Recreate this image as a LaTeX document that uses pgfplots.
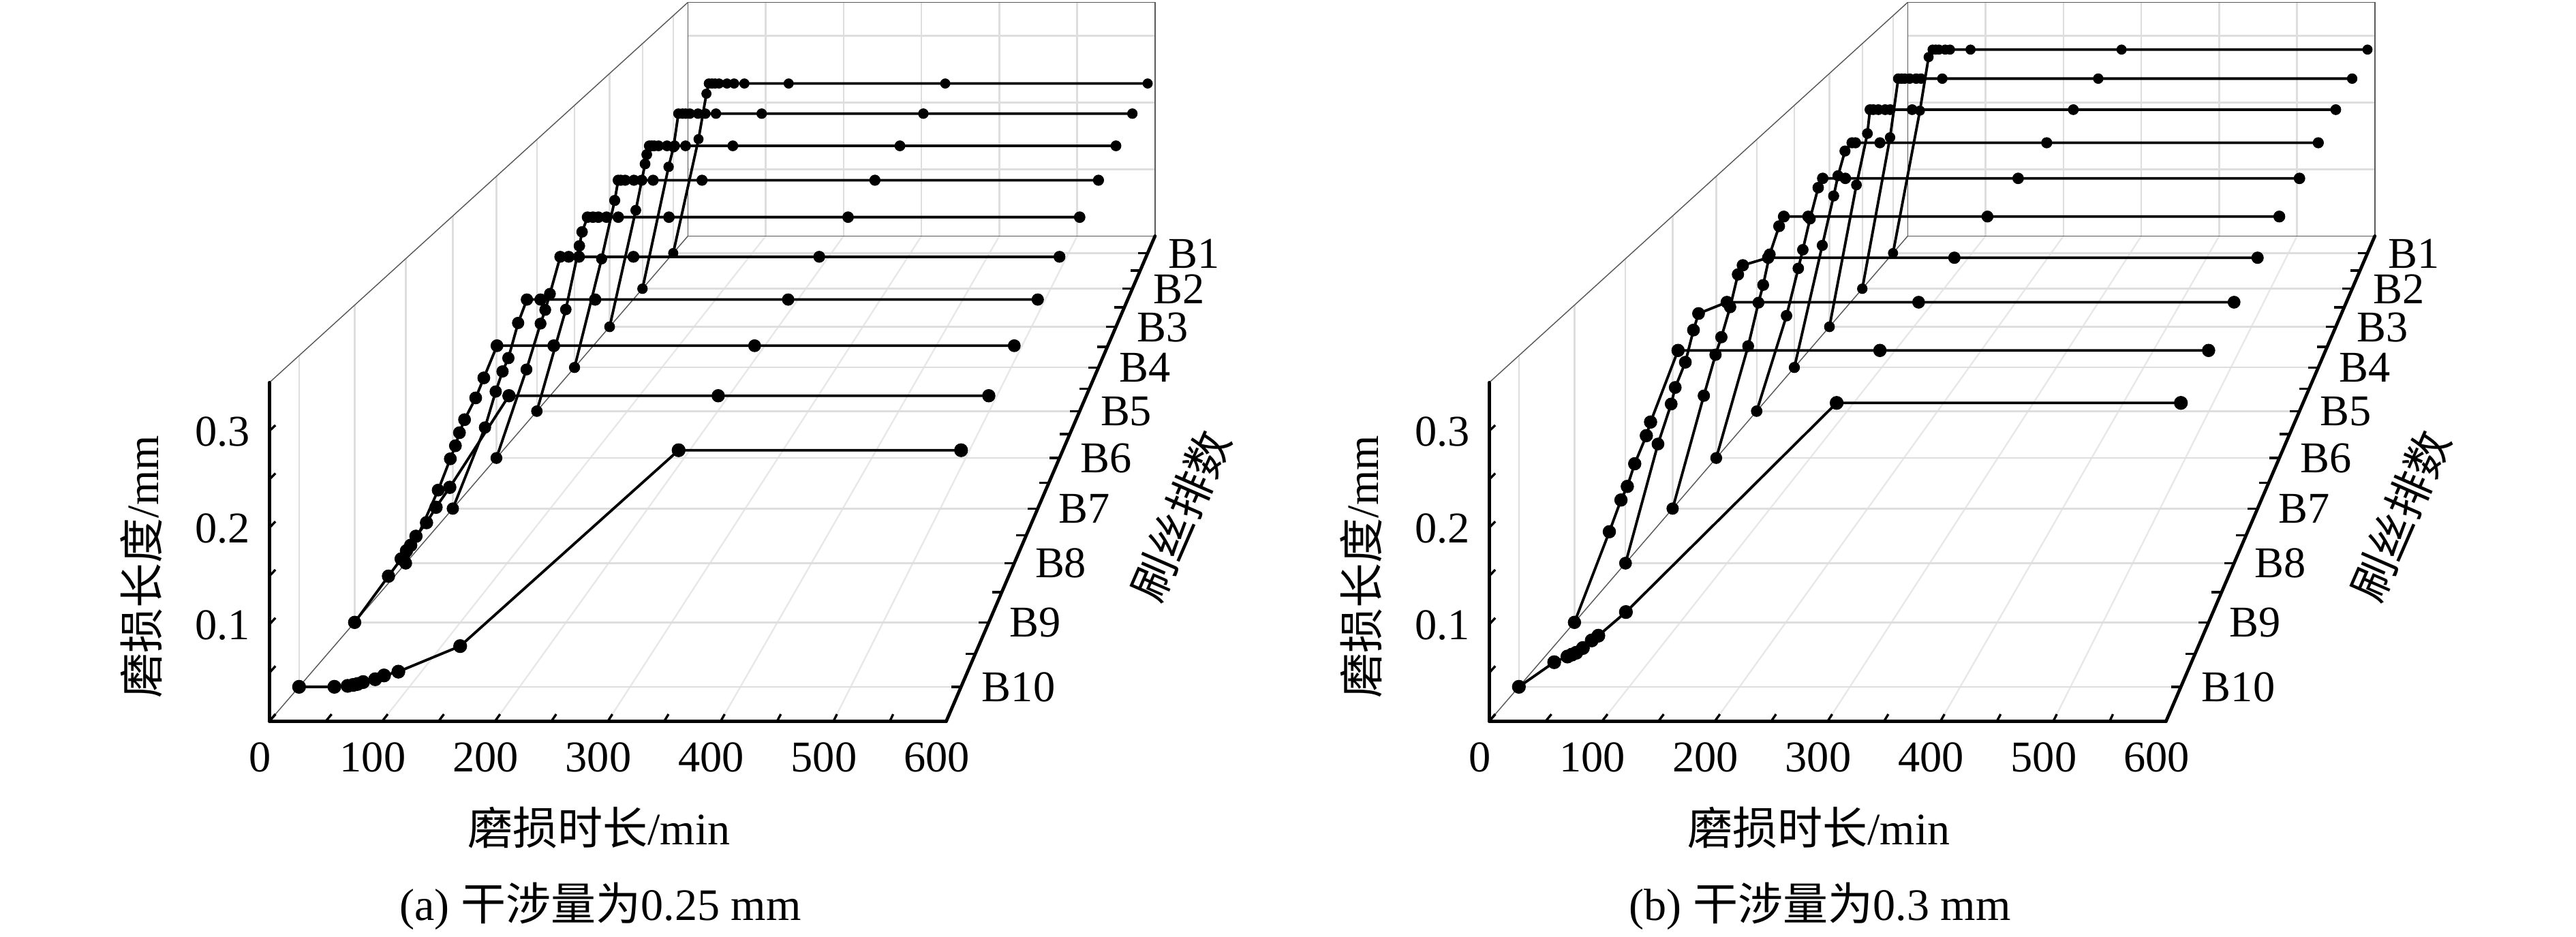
\documentclass[border=0pt]{standalone}
\usepackage{fontspec}
\setmainfont{Liberation Serif}
\newfontfamily\cjk{Noto Sans CJK SC}
\usepackage{pgfplots}
\usepackage{pgfplotstable}
\pgfplotsset{compat=1.18}

% ---------------- data: panel (a), interference 0.25 mm ----------------
\pgfplotstableread{
t w
0 0
32 0.168
42 0.235
45 0.25
49 0.25
53 0.25
58 0.25
68 0.25
77 0.25
90 0.25
146 0.25
344 0.25
600 0.25
}\aBi
\pgfplotstableread{
t w
0 0
32 0.174
38 0.202
44 0.25
49 0.25
53 0.25
58 0.25
68 0.25
77 0.25
90 0.25
146 0.25
344 0.25
600 0.25
}\aBii
\pgfplotstableread{
t w
0 0
31 0.161
42 0.225
44 0.238
47 0.25
50 0.25
53 0.25
58 0.25
68 0.25
77 0.25
90 0.25
146 0.25
344 0.25
600 0.25
}\aBiii
\pgfplotstableread{
t w
0 0
31 0.145
46 0.223
50 0.25
53 0.25
58 0.25
68 0.25
77 0.25
90 0.25
146 0.25
344 0.25
600 0.25
}\aBiv
\pgfplotstableread{
t w
0 0
32 0.131
47 0.213
50 0.231
56 0.25
62 0.25
68 0.25
77 0.25
90 0.25
146 0.25
344 0.25
600 0.25
}\aBv
\pgfplotstableread{
t w
0 0
32 0.110
47 0.167
52 0.184
57 0.204
68 0.25
77 0.25
88 0.25
146 0.25
344 0.25
600 0.25
}\aBvi
\pgfplotstableread{
t w
0 0
33 0.097
44 0.140
51 0.164
57 0.180
67 0.222
76 0.25
90 0.25
146 0.25
344 0.25
600 0.25
}\aBvii
\pgfplotstableread{
t w
0 0
32 0.084
44 0.120
49 0.135
53 0.150
58 0.165
69 0.190
77 0.213
90 0.25
146 0.25
344 0.25
600 0.25
}\aBviii
\pgfplotstableread{
t w
0 0
32 0.051
44 0.070
49 0.079
53 0.085
58 0.095
68 0.110
77 0.127
90 0.149
146 0.25
344 0.25
600 0.25
}\aBix
\pgfplotstableread{
t w
0 0
32 0
44 0.001
49 0.002
53 0.003
58 0.005
69 0.008
77 0.012
90 0.016
146 0.043
344 0.25
600 0.25
}\aBx

% ---------------- data: panel (b), interference 0.3 mm ----------------
\pgfplotstableread{
t w
0 0
34 0.210
45 0.289
50 0.3
54 0.3
58 0.3
66 0.3
72 0.3
98 0.3
289 0.3
600 0.3
}\bBi
\pgfplotstableread{
t w
0 0
34 0.216
44 0.3
48 0.3
52 0.3
58 0.3
66 0.3
72 0.3
98 0.3
289 0.3
600 0.3
}\bBii
\pgfplotstableread{
t w
0 0
32 0.196
45 0.267
48 0.3
52 0.3
58 0.3
66 0.3
72 0.3
98 0.3
289 0.3
600 0.3
}\bBiii
\pgfplotstableread{
t w
0 0
32 0.163
45 0.229
50 0.256
58 0.289
66 0.3
70 0.3
98 0.3
289 0.3
600 0.3
}\bBiv
\pgfplotstableread{
t w
0 0
33 0.123
46 0.184
51 0.208
59 0.248
68 0.288
73 0.3
98 0.3
289 0.3
600 0.3
}\bBv
\pgfplotstableread{
t w
0 0
34 0.139
45 0.193
50 0.215
57 0.253
67 0.288
72 0.3
98 0.3
289 0.3
600 0.3
}\bBvi
\pgfplotstableread{
t w
0 0
32 0.135
44 0.184
50 0.205
59 0.241
67 0.280
72 0.291
98 0.3
289 0.3
600 0.3
}\bBvii
\pgfplotstableread{
t w
0 0
32 0.137
45 0.183
49 0.202
59 0.231
67 0.268
72 0.287
100 0.3
289 0.3
600 0.3
}\bBviii
\pgfplotstableread{
t w
0 0
33 0.100
44 0.135
50 0.150
57 0.175
68 0.206
72 0.221
98 0.3
289 0.3
600 0.3
}\bBix
\pgfplotstableread{
t w
0 0
32 0.026
44 0.032
48 0.034
52 0.036
58 0.041
66 0.049
72 0.054
97 0.079
288 0.3
600 0.3
}\bBx

\pgfplotsset{
  gridl/.style={black!13, line width=0.1mm},
  gridd/.style={black!9, line width=0.1mm},
  boxl/.style={black!65, line width=0.06mm},
  axl/.style={black, line width=0.2mm, line cap=round},
  tickl/.style={black, line width=0.14mm},
  serl/.style={black, line width=0.16mm, mark=*, mark options={fill=black, draw=black, line width=0.04mm}},
}

% one straight segment between two 3D points (t b w d), d = screen x offset
\newcommand{\seg}[4]{\addplot[#1] table[row sep=\\, x expr={#2(\thisrow{t},\thisrow{b})+\thisrow{d}}, y expr={py(\thisrow{b},\thisrow{w})}] {t b w d\\ #3\\ #4\\};}

% perspective box, grid and ticks of one panel
\newcommand{\decor}[1]{%
  \pgfplotsinvokeforeach{100,200,300,400,500}{%
    \seg{gridd}{#1}{##1 10.5 0 0}{##1 0.5 0 0}%
    \seg{gridl}{#1}{##1 0.5 0 0}{##1 0.5 0.35 0}%
  }%
  \pgfplotsinvokeforeach{1,2,3,4,5,6,7,8,9,10}{%
    \seg{gridl}{#1}{0 ##1 0 0}{600 ##1 0 0}%
    \seg{gridl}{#1}{0 ##1 0 0}{0 ##1 0.35 0}%
  }%
  \pgfplotsinvokeforeach{0.1,0.2,0.3}{%
    \seg{gridl}{#1}{0 0.5 ##1 0}{600 0.5 ##1 0}%
  }%
  \seg{boxl}{#1}{0 0.5 0 0}{600 0.5 0 0}%
  \seg{boxl}{#1}{600 0.5 0 0}{600 0.5 0.35 0}%
  \seg{boxl}{#1}{600 0.5 0.35 0}{0 0.5 0.35 0}%
  \seg{boxl}{#1}{0 0.5 0.35 0}{0 0.5 0 0}%
  \seg{boxl}{#1}{0 10.5 0.35 0}{0 0.5 0.35 0}%
  \seg{boxl}{#1}{0 10.5 0 0}{0 0.5 0 0}%
  \seg{axl}{#1}{0 10.5 0 0}{600 10.5 0 0}%
  \seg{axl}{#1}{600 10.5 0 0}{600 0.5 0 0}%
  \seg{axl}{#1}{0 10.5 0 0}{0 10.5 0.35 0}%
  \pgfplotsinvokeforeach{0,50,100,150,200,250,300,350,400,450,500,550,600}{%
    \seg{tickl}{#1}{##1 10.5 0 0}{##1 10.4 0 0}%
  }%
  \pgfplotsinvokeforeach{0,0.05,0.1,0.15,0.2,0.25,0.3}{%
    \seg{tickl}{#1}{0 10.5 ##1 0}{0 10.4 ##1 0}%
  }%
  \pgfplotsinvokeforeach{1,1.5,2,2.5,3,3.5,4,4.5,5,5.5,6,6.5,7,7.5,8,8.5,9,9.5,10}{%
    \seg{tickl}{#1}{600 ##1 0 0}{600 ##1 0 -6}%
  }%
}

% one wear series: #1 row (depth), #2 table, #3 projection, #4 marker radius (mm)
\newcommand{\ser}[4]{\addplot[serl, mark size=#4mm] table[x expr={#3(\thisrow{t},#1)}, y expr={py(#1,\thisrow{w})}] {#2};}

\begin{document}
\begin{tikzpicture}[x=0.1mm, y=-0.1mm,
  /pgf/declare function={
    sc(\BB)=1/(1+0.0449*(10.5-\BB));
    pxa(\TT,\BB)=986+(0.68667*\TT-822)*sc(\BB);
    pxb(\TT,\BB)=1728.5+(0.68667*\TT-822)*sc(\BB);
    py(\BB,\WW)=-514+(953-589*\WW)*sc(\BB);
  },
  lab/.style={inner sep=0pt, font=\fontsize{7.6}{9}\selectfont},
  tit/.style={inner sep=0pt, font=\fontsize{7.8}{9}\selectfont}]
\useasboundingbox (0,0) rectangle (1568,570);
\begin{axis}[at={(0,0)}, anchor=north west, scale only axis,
  width=156.8mm, height=57mm, xmin=0, xmax=1568, ymin=0, ymax=570,
  y dir=reverse, hide axis, clip=false]
\decor{pxa}
\decor{pxb}
\ser{1}{\aBi}{pxa}{0.287}
\ser{2}{\aBii}{pxa}{0.297}
\ser{3}{\aBiii}{pxa}{0.307}
\ser{4}{\aBiv}{pxa}{0.317}
\ser{5}{\aBv}{pxa}{0.329}
\ser{6}{\aBvi}{pxa}{0.341}
\ser{7}{\aBvii}{pxa}{0.354}
\ser{8}{\aBviii}{pxa}{0.369}
\ser{9}{\aBix}{pxa}{0.384}
\ser{10}{\aBx}{pxa}{0.401}
\ser{1}{\bBi}{pxb}{0.287}
\ser{2}{\bBii}{pxb}{0.297}
\ser{3}{\bBiii}{pxb}{0.307}
\ser{4}{\bBiv}{pxb}{0.317}
\ser{5}{\bBv}{pxb}{0.329}
\ser{6}{\bBvi}{pxb}{0.341}
\ser{7}{\bBvii}{pxb}{0.354}
\ser{8}{\bBviii}{pxb}{0.369}
\ser{9}{\bBix}{pxb}{0.384}
\ser{10}{\bBx}{pxb}{0.401}
\end{axis}
% ---------- labels ----------
\foreach \off/\cap in {0/{(a) {\cjk 干涉量为}0.25 mm}, 742.5/{(b) {\cjk 干涉量为}0.3 mm}}{
  \foreach \xv in {0,100,...,600}
    \node[lab, anchor=base] at ({164+0.68667*\xv-5.8+\off},469.7) {\xv};
  \foreach \zv in {0.1,0.2,0.3}
    \node[lab, anchor=base east] at ({152.8+\off},{439-589*\zv+9.2}) {\zv};
  \foreach \k in {1,...,10}
    \node[lab, anchor=base west] at ({986-410*sc(\k)+12+\off},{-514+953*sc(\k)+9}) {B\k};
  \node[tit, anchor=base] at ({364.6+\off},514) {{\cjk 磨损时长}/min};
  \node[tit, anchor=base, rotate=90] at ({96.3+\off},345) {{\cjk 磨损长度}/mm};
  \node[tit, anchor=base, rotate=66.5] at ({728+\off},318) {\cjk 刷丝排数};
  \node[tit, anchor=base] at ({365.4+\off},560) {\cap};
}
\end{tikzpicture}
\end{document}
